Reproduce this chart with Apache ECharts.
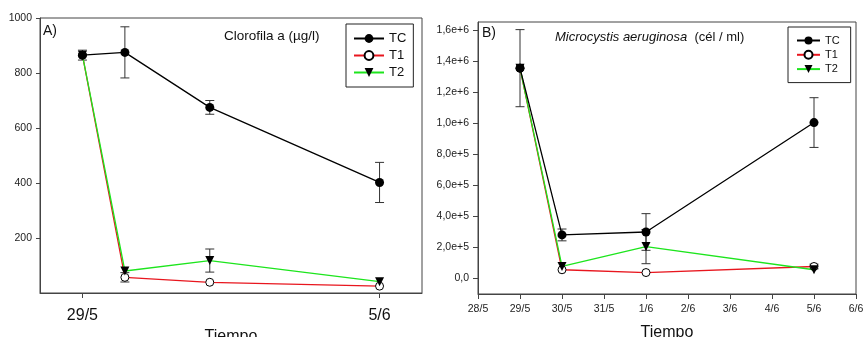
<!DOCTYPE html>
<html lang="es">
<head>
<meta charset="utf-8">
<title>Clorofila a / Microcystis aeruginosa</title>
<script src="https://cdn.jsdelivr.net/npm/echarts@6/dist/echarts.min.js"></script>
<style>
  html, body { margin: 0; padding: 0; background: #fff; }
  #chart { width: 865px; height: 337px; }
</style>
</head>
<body>
<div id="chart"></div>
<script>
  // días desde 29/5
  const days = [0, 1, 3, 7];
  const dayLabels = ['28/5', '29/5', '30/5', '31/5', '1/6', '2/6', '3/6', '4/6', '5/6', '6/6']; // -1 .. 8

  // A) Clorofila a (µg/l)
  const tcA = [865, 875, 675, 402];
  const tcErrA = [18, 93, 25, 73];
  const t1A = [865, 57, 39, 25];
  const t1ErrA = [0, 17, 0, 0];
  const t2A = [865, 80, 118, 41];
  const t2ErrA = [0, 0, 42, 0];
  const yTicksA = [200, 400, 600, 800, 1000];
  const xTicksA = [0, 7];

  // B) Microcystis aeruginosa (cél / ml)
  const tcB = [1353000, 280000, 299000, 1003000];
  const tcErrB = [248000, 38000, 118000, 160000];
  const t1B = [1353000, 56000, 38000, 77000];
  const t1ErrB = [0, 0, 0, 15000];
  const t2B = [1353000, 77000, 205000, 56000];
  const t2ErrB = [0, 0, 110000, 0];
  const yTicksB = [0, 200000, 400000, 600000, 800000, 1000000, 1200000, 1400000, 1600000];

  const FONT = '"Liberation Sans", Arial, sans-serif';
  const RED = '#e8161e';
  const GREEN = '#1de51d';
  const AXIS = '#444';

  function pairs(vals) {
    return days.map((d, i) => [d, vals[i]]);
  }

  function errData(vals, errs) {
    const out = [];
    days.forEach((d, i) => {
      if (errs[i]) out.push([d, vals[i] - errs[i], vals[i] + errs[i]]);
    });
    return out;
  }

  function sciLabel(v) {
    if (v === 0) return '0,0';
    const e = Math.floor(Math.log10(v) + 1e-9);
    return (v / Math.pow(10, e)).toFixed(1).replace('.', ',') + 'e+' + e;
  }

  function errSeries(idx, data) {
    return {
      type: 'custom',
      xAxisIndex: idx, yAxisIndex: idx,
      z: 1,
      silent: true,
      encode: { x: 0, y: [1, 2] },
      data: data,
      renderItem: function (params, api) {
        const x = api.value(0);
        const top = api.coord([x, api.value(2)]);
        const bot = api.coord([x, api.value(1)]);
        const w = 4.5;
        const st = { stroke: '#333', lineWidth: 1 };
        return {
          type: 'group',
          children: [
            { type: 'line', shape: { x1: top[0], y1: top[1], x2: bot[0], y2: bot[1] }, style: st },
            { type: 'line', shape: { x1: top[0] - w, y1: top[1], x2: top[0] + w, y2: top[1] }, style: st },
            { type: 'line', shape: { x1: bot[0] - w, y1: bot[1], x2: bot[0] + w, y2: bot[1] }, style: st }
          ]
        };
      }
    };
  }

  function lineSeries(idx, name, vals, kind) {
    const s = {
      name: name,
      type: 'line',
      xAxisIndex: idx, yAxisIndex: idx,
      data: pairs(vals),
      lineStyle: { width: 1.3 },
      z: 2
    };
    if (kind === 'TC') {
      s.symbol = 'circle'; s.symbolSize = 9; s.z = 3;
      s.itemStyle = { color: '#000' };
      s.lineStyle.color = '#000';
    } else if (kind === 'T1') {
      s.symbol = 'circle'; s.symbolSize = 8;
      s.itemStyle = { color: '#fff', borderColor: '#000', borderWidth: 1 };
      s.lineStyle.color = RED;
    } else {
      s.symbol = 'triangle'; s.symbolSize = 9; s.symbolRotate = 180;
      s.itemStyle = { color: '#000' };
      s.lineStyle.color = GREEN;
    }
    return s;
  }

  const chart = echarts.init(document.getElementById('chart'));

  chart.setOption({
    animation: false,
    textStyle: { fontFamily: FONT },
    title: [
      { text: 'A)', left: 43, top: 24, padding: 0, textStyle: { fontSize: 14, fontWeight: 'normal', color: '#111', fontFamily: FONT } },
      { text: 'Clorofila a (µg/l)', left: 224, top: 29, padding: 0, textStyle: { fontSize: 13.5, fontWeight: 'normal', color: '#111', fontFamily: FONT } },
      { text: 'B)', left: 482, top: 26, padding: 0, textStyle: { fontSize: 14, fontWeight: 'normal', color: '#111', fontFamily: FONT } },
      {
        text: '{i|Microcystis aeruginosa}  (cél / ml)', left: 555, top: 31, padding: 0,
        textStyle: {
          fontSize: 13, fontWeight: 'normal', color: '#111', fontFamily: FONT,
          rich: { i: { fontStyle: 'italic', fontSize: 13, color: '#111', fontFamily: FONT } }
        }
      }
    ],
    legend: [
      {
        data: ['TC', 'T1', 'T2'],
        orient: 'vertical', left: 346, top: 24,
        padding: [8, 7, 8, 7],
        itemWidth: 30, itemHeight: 11, itemGap: 4,
        borderColor: '#222', borderWidth: 1,
        textStyle: { fontSize: 13, color: '#111', fontFamily: FONT },
        selectedMode: false
      },
      {
        data: ['TC', 'T1', 'T2'],
        orient: 'vertical', left: 788, top: 27,
        padding: [8, 11, 8, 8],
        itemWidth: 23, itemHeight: 10, itemGap: 3.3,
        borderColor: '#222', borderWidth: 1,
        textStyle: { fontSize: 11, color: '#111', fontFamily: FONT },
        selectedMode: false
      }
    ],
    grid: [
      { left: 40, top: 18, width: 382, height: 275, show: true, borderColor: AXIS, borderWidth: 1, outerBoundsMode: 'none', containLabel: false },
      { left: 478, top: 22, width: 378, height: 272, show: true, borderColor: AXIS, borderWidth: 1, outerBoundsMode: 'none', containLabel: false }
    ],
    xAxis: [
      {
        type: 'value', gridIndex: 0, min: -1, max: 8,
        name: 'Tiempo', nameLocation: 'middle', nameGap: 35,
        nameTextStyle: { fontSize: 16, color: '#111', fontFamily: FONT },
        axisLine: { onZero: false, lineStyle: { color: AXIS } },
        axisTick: { customValues: xTicksA, length: 5, lineStyle: { color: AXIS } },
        axisLabel: { customValues: xTicksA, formatter: v => dayLabels[v + 1], fontSize: 16, color: '#111', margin: 15 },
        splitLine: { show: false }
      },
      {
        type: 'value', gridIndex: 1, min: -1, max: 8, interval: 1,
        name: 'Tiempo', nameLocation: 'middle', nameGap: 31,
        nameTextStyle: { fontSize: 16, color: '#111', fontFamily: FONT },
        axisLine: { onZero: false, lineStyle: { color: AXIS } },
        axisTick: { length: 5, lineStyle: { color: AXIS } },
        axisLabel: { formatter: v => dayLabels[v + 1], fontSize: 10.5, color: '#222', margin: 10, showMinLabel: true, showMaxLabel: true },
        splitLine: { show: false }
      }
    ],
    yAxis: [
      {
        type: 'value', gridIndex: 0, min: 0, max: 1000,
        axisLine: { show: true, onZero: false, lineStyle: { color: AXIS } },
        axisTick: { show: true, customValues: yTicksA, length: 4, lineStyle: { color: AXIS } },
        axisLabel: { customValues: yTicksA, formatter: v => String(v), fontSize: 10.5, color: '#222', margin: 8 },
        splitLine: { show: false }
      },
      {
        type: 'value', gridIndex: 1, min: -100000, max: 1650000,
        axisLine: { show: true, onZero: false, lineStyle: { color: AXIS } },
        axisTick: { show: true, customValues: yTicksB, length: 5, lineStyle: { color: AXIS } },
        axisLabel: { customValues: yTicksB, formatter: sciLabel, fontSize: 10.5, color: '#222', margin: 9 },
        splitLine: { show: false }
      }
    ],
    series: [
      errSeries(0, errData(tcA, tcErrA)),
      errSeries(0, errData(t1A, t1ErrA)),
      errSeries(0, errData(t2A, t2ErrA)),
      lineSeries(0, 'TC', tcA, 'TC'),
      lineSeries(0, 'T1', t1A, 'T1'),
      lineSeries(0, 'T2', t2A, 'T2'),
      errSeries(1, errData(tcB, tcErrB)),
      errSeries(1, errData(t1B, t1ErrB)),
      errSeries(1, errData(t2B, t2ErrB)),
      lineSeries(1, 'TC', tcB, 'TC'),
      lineSeries(1, 'T1', t1B, 'T1'),
      lineSeries(1, 'T2', t2B, 'T2')
    ]
  });
</script>
</body>
</html>
